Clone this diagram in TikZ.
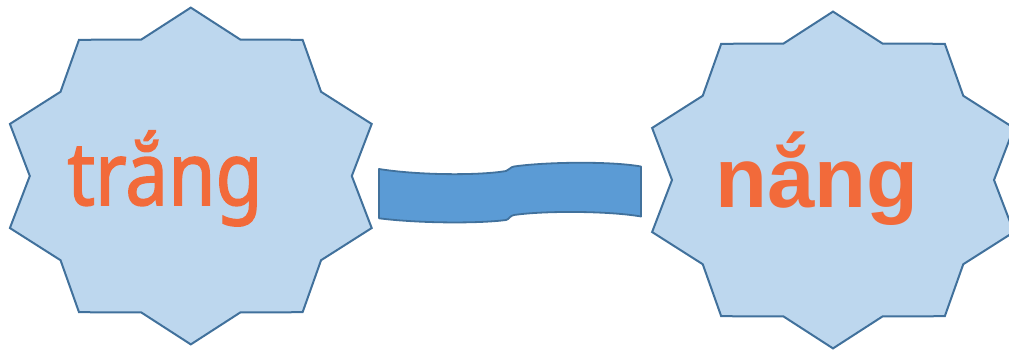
\documentclass[tikz,border=0pt]{standalone}
\usepackage{fontspec}
\setmainfont{Liberation Sans}
\newfontfamily\roundfont[FakeBold=1.8]{Noto Sans}
\definecolor{starfill}{HTML}{BDD7EE}
\definecolor{edgeblue}{HTML}{41719C}
\definecolor{bannerfill}{HTML}{5B9BD5}
\definecolor{wordorange}{HTML}{F26A3A}
\tikzset{
  starshape/.style={fill=starfill,draw=edgeblue,line width=2pt,line join=miter},
  bannershape/.style={fill=bannerfill,draw=edgeblue,line width=1.8pt,line join=round},
  wordtext/.style={text=wordorange,inner sep=0pt,anchor=base}
}
\newcommand\tenstar[2]{%
  \begin{scope}[shift={(#1,#2)}]
    \draw[starshape] (0,168.4)
      \foreach \k [evaluate=\k as \ang using 90-18*\k,
                   evaluate=\k as \rx using {mod(\k,2)==0 ? 190.2 : 161},
                   evaluate=\k as \ry using {mod(\k,2)==0 ? 168.4 : 143.3}] in {1,...,19}
      { -- ({\rx*cos(\ang)},{\ry*sin(\ang)}) } -- cycle;
  \end{scope}}
\begin{document}
\begin{tikzpicture}[x=1pt,y=-1pt]
\useasboundingbox (0,0) rectangle (1009,350);
\tenstar{190.8}{176}
\tenstar{833}{180}
% double wave banner
\draw[bannershape] (379,169)
  .. controls (420,175.5) and (480,175.5) .. (506,171)
  .. controls (509,170.5) and (510,167) .. (514,166.5)
  .. controls (545,162) and (610,161) .. (641,166.5)
  -- (641,216.5)
  .. controls (610,211) and (545,210.5) .. (514,215)
  .. controls (510,215.5) and (509,219.5) .. (506,220)
  .. controls (480,223.5) and (420,223.5) .. (379,218.3)
  -- cycle;
\node[wordtext,font={\roundfont\fontsize{88}{88}\selectfont}] (w1) at (165,205) {\scalebox{0.87}[1]{trắng}};
\node[wordtext,font={\bfseries\fontsize{85}{85}\selectfont}] (w2) at (817,207) {nắng};
\end{tikzpicture}
\end{document}
